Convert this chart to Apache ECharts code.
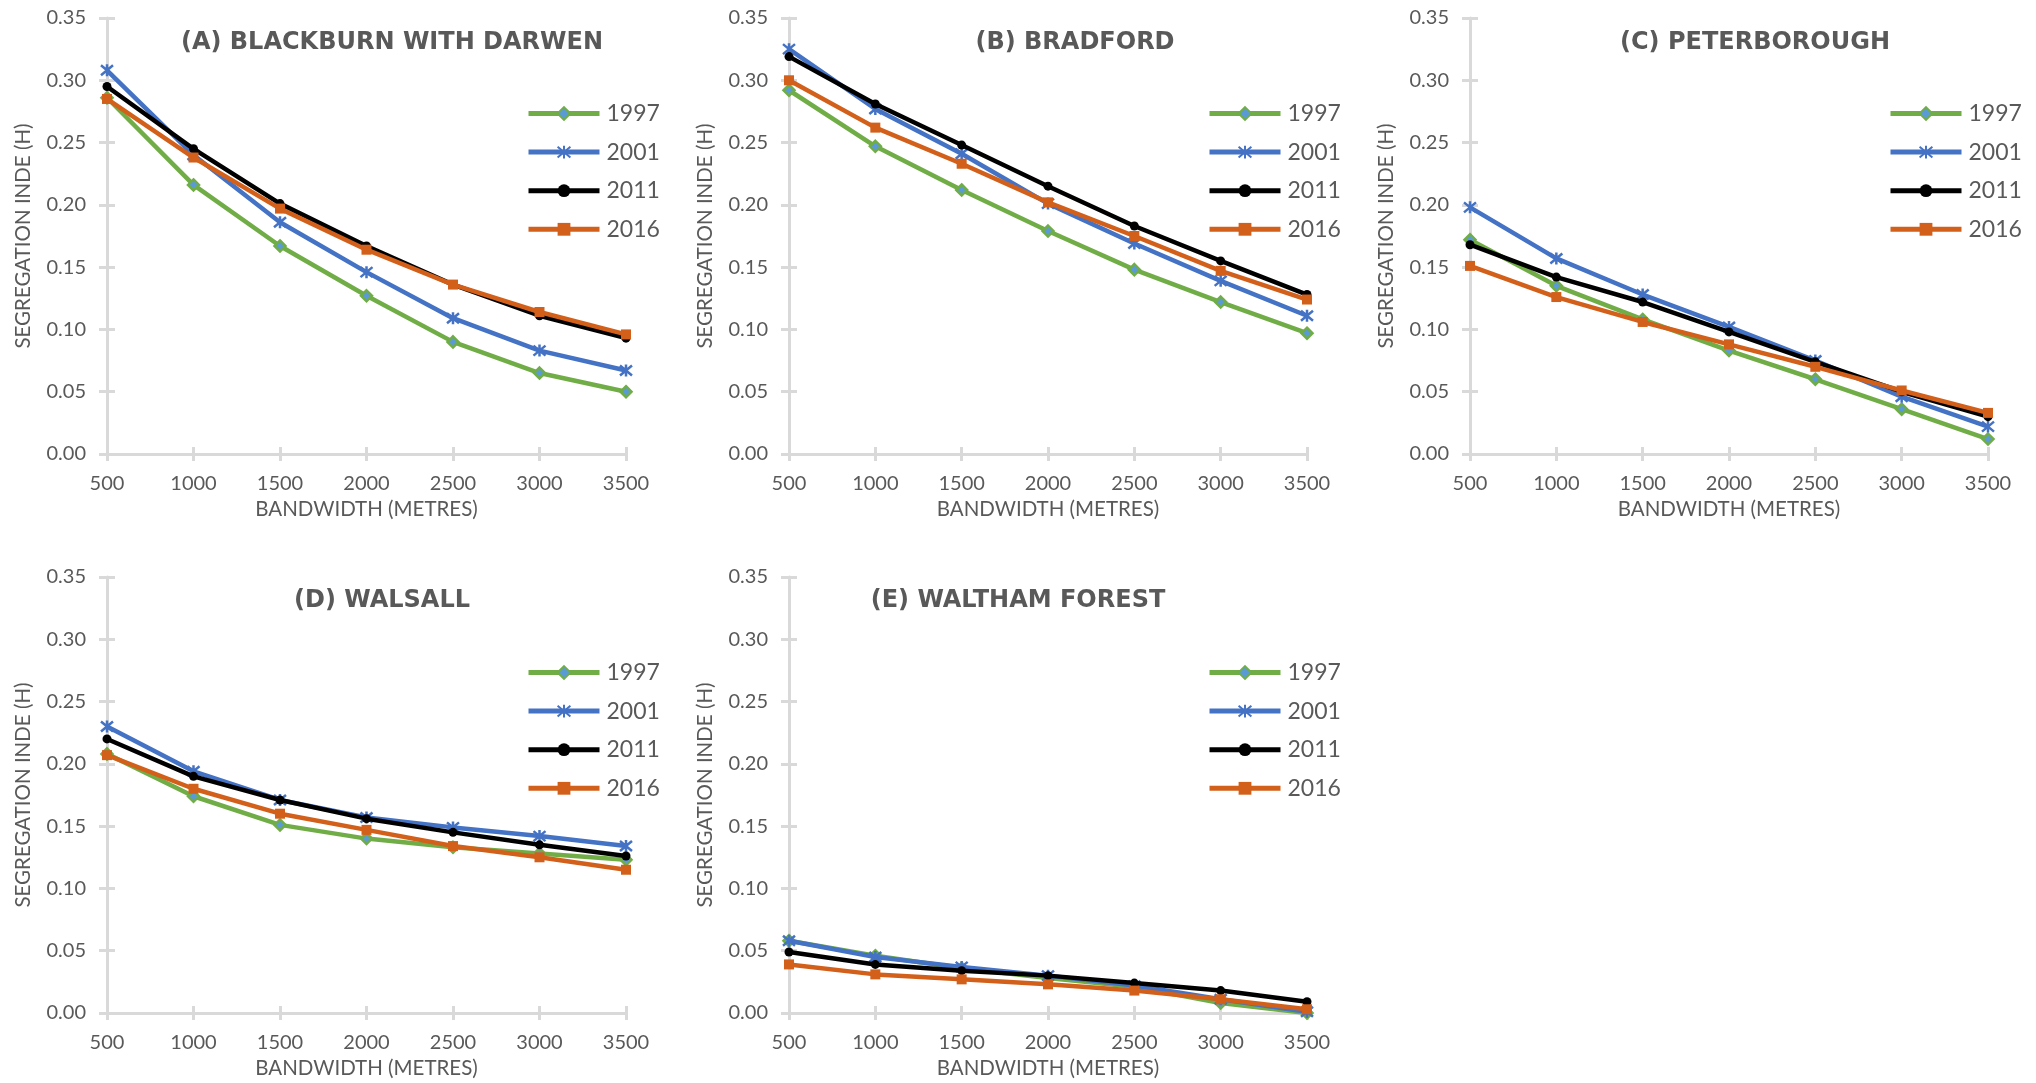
<!DOCTYPE html>
<html><head><meta charset="utf-8">
<script src="https://cdn.jsdelivr.net/npm/echarts@6/dist/echarts.min.js"></script>
<style>html,body{margin:0;padding:0;background:#fff}#chart{width:2036px;height:1083px}</style>
</head><body><div id="chart"></div>
<script>
// ---- data ----
const bandwidths = ['500', '1000', '1500', '2000', '2500', '3000', '3500'];
const years = ['1997', '2001', '2011', '2016'];
const panelTitles = ['(A) BLACKBURN WITH DARWEN', '(B) BRADFORD', '(C) PETERBOROUGH', '(D) WALSALL', '(E) WALTHAM FOREST'];
const yMin = 0, yMax = 0.35, yStep = 0.05;

const blackburn1997 = [0.286, 0.216, 0.167, 0.127, 0.090, 0.065, 0.050];
const blackburn2001 = [0.308, 0.240, 0.186, 0.146, 0.109, 0.083, 0.067];
const blackburn2011 = [0.295, 0.245, 0.201, 0.167, 0.136, 0.111, 0.093];
const blackburn2016 = [0.285, 0.238, 0.197, 0.164, 0.136, 0.114, 0.096];

const bradford1997 = [0.292, 0.247, 0.212, 0.179, 0.148, 0.122, 0.097];
const bradford2001 = [0.325, 0.277, 0.241, 0.201, 0.169, 0.139, 0.111];
const bradford2011 = [0.319, 0.281, 0.248, 0.215, 0.183, 0.155, 0.128];
const bradford2016 = [0.300, 0.262, 0.233, 0.202, 0.175, 0.147, 0.124];

const peterborough1997 = [0.172, 0.135, 0.108, 0.083, 0.060, 0.036, 0.012];
const peterborough2001 = [0.198, 0.157, 0.128, 0.102, 0.075, 0.046, 0.022];
const peterborough2011 = [0.168, 0.142, 0.122, 0.098, 0.074, 0.050, 0.030];
const peterborough2016 = [0.151, 0.126, 0.106, 0.088, 0.070, 0.051, 0.033];

const walsall1997 = [0.208, 0.174, 0.151, 0.140, 0.133, 0.128, 0.123];
const walsall2001 = [0.230, 0.194, 0.171, 0.157, 0.149, 0.142, 0.134];
const walsall2011 = [0.220, 0.190, 0.171, 0.156, 0.145, 0.135, 0.126];
const walsall2016 = [0.207, 0.180, 0.160, 0.147, 0.134, 0.125, 0.115];

const waltham1997 = [0.058, 0.046, 0.036, 0.028, 0.021, 0.008, 0.000];
const waltham2001 = [0.058, 0.045, 0.037, 0.030, 0.022, 0.011, 0.001];
const waltham2011 = [0.049, 0.039, 0.034, 0.030, 0.024, 0.018, 0.009];
const waltham2016 = [0.039, 0.031, 0.027, 0.023, 0.018, 0.011, 0.003];

const panelData = [
  [blackburn1997, blackburn2001, blackburn2011, blackburn2016],
  [bradford1997, bradford2001, bradford2011, bradford2016],
  [peterborough1997, peterborough2001, peterborough2011, peterborough2016],
  [walsall1997, walsall2001, walsall2011, walsall2016],
  [waltham1997, waltham2001, waltham2011, waltham2016]
];

// ---- layout & style ----
const grids = [
  {left: 107, top: 18, width: 519, height: 436},
  {left: 789, top: 18, width: 518, height: 436},
  {left: 1470, top: 18, width: 518, height: 436},
  {left: 107, top: 577, width: 519, height: 436},
  {left: 789, top: 577, width: 518, height: 436}
];
const titleCenters = [[392, 43], [1075, 43], [1755, 43], [382, 601], [1018, 601]];

const GREY = '#595959';
const AXIS = '#d9d9d9';
const FONT = 'Lato';
const starPath = 'path://M0,0L10,10M10,0L0,10M5,-1L5,11';
const seriesStyle = [
  {line: '#70AD47', symbol: 'diamond', size: 11, item: {color: '#5B9BD5', borderColor: '#70AD47', borderWidth: 2.5}},
  {line: '#4472C4', symbol: starPath, size: 12, item: {color: '#4472C4', borderColor: '#4472C4', borderWidth: 2.5}},
  {line: '#000000', symbol: 'circle', size: 9, item: {color: '#000000', borderColor: '#000000', borderWidth: 0}},
  {line: '#D2601A', symbol: 'rect', size: 10, item: {color: '#D2601A', borderColor: '#D2601A', borderWidth: 0}}
];

const option = {
  animation: false,
  backgroundColor: '#ffffff',
  grid: grids.map(g => Object.assign({containLabel: false}, g)),
  xAxis: [], yAxis: [], series: [], legend: [],
  graphic: panelTitles.map((t, i) => ({
    type: 'text', x: titleCenters[i][0], y: titleCenters[i][1], silent: true,
    style: {text: t, fill: GREY, font: 'bold 24px "DejaVu Sans"', align: 'center', verticalAlign: 'middle'}
  }))
};

grids.forEach((g, p) => {
  // main x axis (line, labels, outer ticks)
  option.xAxis.push({
    type: 'category', gridIndex: p, data: bandwidths, boundaryGap: false, position: 'bottom',
    axisLine: {lineStyle: {color: AXIS, width: 3}},
    axisTick: {show: true, length: 7, lineStyle: {color: AXIS, width: 3}},
    axisLabel: {color: GREY, fontFamily: FONT, fontSize: 20, margin: 20},
    splitLine: {show: false},
    name: 'BANDWIDTH (METRES)', nameLocation: 'middle', nameGap: 45,
    nameTextStyle: {color: GREY, fontFamily: FONT, fontSize: 20.5}
  });
  // inner tick half (cross ticks)
  option.xAxis.push({
    type: 'category', gridIndex: p, data: bandwidths, boundaryGap: false, position: 'bottom',
    axisLine: {show: false},
    axisTick: {show: true, inside: true, length: 7, lineStyle: {color: AXIS, width: 3}},
    axisLabel: {show: false}, splitLine: {show: false}
  });
  option.yAxis.push({
    type: 'value', gridIndex: p, min: yMin, max: yMax, interval: yStep, position: 'left',
    axisLine: {show: true, lineStyle: {color: AXIS, width: 3}},
    axisTick: {show: true, length: 8, lineStyle: {color: AXIS, width: 3}},
    axisLabel: {color: GREY, fontFamily: FONT, fontSize: 20, margin: 21, formatter: v => v.toFixed(2)},
    splitLine: {show: false},
    name: 'SEGREGATION INDE (H)', nameLocation: 'middle', nameGap: 73, nameRotate: 90,
    nameTextStyle: {color: GREY, fontFamily: FONT, fontSize: 20.5}
  });
  option.yAxis.push({
    type: 'value', gridIndex: p, min: yMin, max: yMax, interval: yStep, position: 'left',
    axisLine: {show: false},
    axisTick: {show: true, inside: true, length: 8, lineStyle: {color: AXIS, width: 3}},
    axisLabel: {show: false}, splitLine: {show: false}
  });
  years.forEach((yr, k) => {
    const s = seriesStyle[k];
    option.series.push({
      type: 'line', name: yr, xAxisIndex: p * 2, yAxisIndex: p * 2,
      data: panelData[p][k], symbol: s.symbol, symbolSize: s.size, showSymbol: true,
      lineStyle: {color: s.line, width: 4.5}, itemStyle: s.item, z: 2 + k,
      emphasis: {disabled: true}
    });
  });
  option.legend.push({
    orient: 'vertical', left: g.left + g.width - 100, top: g.top + 84, padding: 0,
    itemWidth: 71, itemHeight: 16, itemGap: 15.6, selectedMode: false,
    lineStyle: {width: 5},
    data: years,
    textStyle: {color: GREY, fontFamily: FONT, fontSize: 23, lineHeight: 22, padding: [0, 0, 0, 2]}
  });
});

const chart = echarts.init(document.getElementById('chart'), null, {renderer: 'canvas'});
chart.setOption(option);
</script>
</body></html>
